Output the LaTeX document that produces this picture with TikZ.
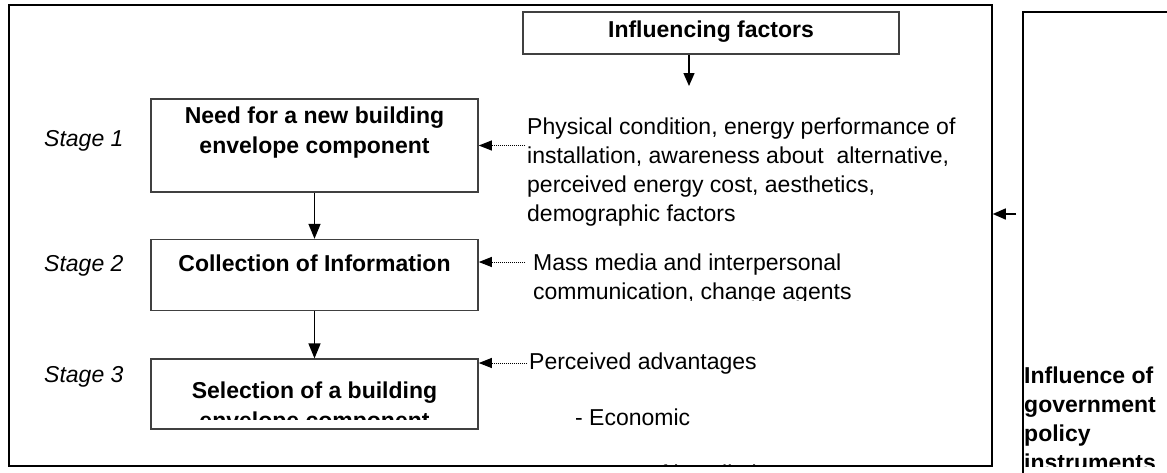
\documentclass[tikz,border=0pt]{standalone}
\usepackage{fontspec}
\setmainfont{Liberation Sans}
\usetikzlibrary{arrows.meta, positioning}

\begin{document}
\begin{tikzpicture}[x=1pt,y=-1pt,node distance=46pt,>={Triangle[length=15pt,width=12pt]},
        every node/.style={inner sep=0pt,font=\fontsize{23}{29}\selectfont},
        stage/.style={draw=black!75,line width=1.6pt,minimum width=327pt},
        stagetext/.style={font=\fontsize{23}{30}\selectfont\bfseries,align=center,anchor=base},
        stagelabel/.style={font=\fontsize{23}{29}\selectfont\itshape,anchor=base west},
        factors/.style={align=left,anchor=base west},
        hint/.style={-{Triangle[length=13pt,width=10pt]},densely dotted,line width=1pt}]

  \useasboundingbox (0,0) rectangle (1167,472);
  \clip (0,0) rectangle (1167,472);

  \node[draw,line width=1.5pt,minimum width=983pt,minimum height=461pt] (frame) at (500.5,235.5) {};
  \node[stage,minimum width=376pt,minimum height=42pt] (infl) at (711,33) {};
  \node[stagetext] (infltxt) at ([yshift=-26pt]infl.north) {Influencing factors};

  \node[stage,minimum height=93pt] (need) at (314.5,145.5) {};
  \node[stage,minimum height=71pt,below=of need] (info) {};
  \node[stage,minimum height=70pt,below=47pt of info] (sel) {};

  % base of a multi-line node is its last line
  \node[stagetext] (needtxt) at ([yshift=-55pt]need.north) {Need for a new building\\envelope component};
  \node[stagetext] (infotxt) at ([yshift=-33pt]info.north) {Collection of Information};
  \begin{scope}
    \clip (sel.north west) rectangle ([yshift=11pt]sel.south east);
    \node[stagetext] (seltxt) at ([yshift=-70pt]sel.north) {Selection of a building\\envelope component};
  \end{scope}

  \node[stagelabel] (s1) at (44,146) {Stage 1};
  \node[stagelabel] (s2) at (44,271) {Stage 2};
  \node[stagelabel] (s3) at (44,382) {Stage 3};

  \node[factors] (phys) at (527,221) {Physical condition, energy performance of\\installation, awareness about\ \ alternative,\\perceived energy cost, aesthetics,\\demographic factors};
  \begin{scope}
    \clip (500,240) rectangle (990,300);
    \node[factors] (mass) at (533,299) {Mass media and interpersonal\\communication, change agents};
  \end{scope}
  \node[factors] (perc) at (529,369) {Perceived advantages};
  \node[factors] (econ) at (575,425) {- Economic};
  \begin{scope}
    \clip (frame.north west) rectangle (frame.south east);
    \node[factors] (ease) at (575,481) {- Ease of installation};
  \end{scope}

  \node[draw,line width=1.5pt,anchor=north west,minimum width=200pt,minimum height=500pt] (policy) at (1022,11) {};
  \begin{scope}
    \clip (1000,0) rectangle (1167,466);
    \node[factors,font=\fontsize{23}{28.7}\selectfont\bfseries] (policytxt) at (1024,470) {Influence of\\government\\policy\\instruments};
  \end{scope}

  \coordinate (factorsin) at (689,86);
  \coordinate (physin) at ([xshift=-2pt]phys.west |- need.east);
  \coordinate (massin) at ([xshift=-8pt,yshift=37pt]mass.base west);
  \coordinate (percin) at ([xshift=-2pt,yshift=6pt]perc.base west);
  \coordinate (policyin) at (1016,214);

  \path[->,line width=1.4pt] (need) edge (info)
        (info) edge (sel);
  \draw[->,line width=1.4pt,>={Triangle[length=13pt,width=11pt]}] (factorsin |- infl.south) -- (factorsin);
  \draw[hint] (physin) -- (need.east);
  \draw[hint] (massin) -- (info.east |- massin);
  \draw[hint] (percin) -- (sel.east |- percin);
  \draw[->,line width=1.4pt,>={Triangle[length=13pt,width=11pt]}] (policyin) -- (frame.east |- policyin);
\end{tikzpicture}
\end{document}
